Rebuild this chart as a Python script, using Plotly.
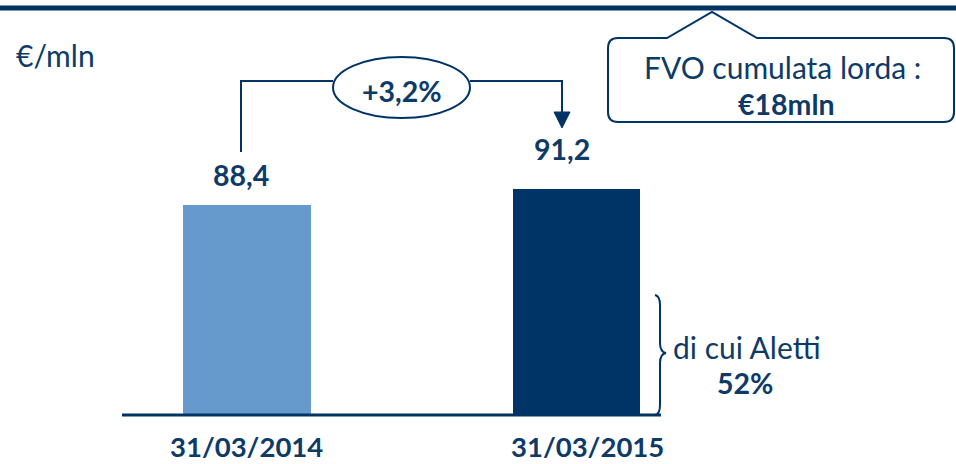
import plotly.graph_objects as go

# ---- data ----
categories = ["31/03/2014", "31/03/2015"]
values = [88.4, 91.2]
value_labels = ["88,4", "91,2"]
bar_colors = ["#6699CC", "#003366"]
growth_label = "+3,2%"
unit_label = "€/mln"
callout_line1 = "FVO cumulata lorda :"
callout_line2 = "€18mln"
brace_line1 = "di cui Aletti"
brace_line2 = "52%"

NAVY = "#003366"
TXT = "#0E3A68"
FONT = "Lato"
W, H = 956, 464
PLOT_BOTTOM = 415
BOLD = 28.5
REG = 30


def px(x):
    return x / W


def py(y):
    return (PLOT_BOTTOM - y) / PLOT_BOTTOM


fig = go.Figure()
fig.add_trace(go.Bar(
    x=categories, y=values, marker=dict(color=bar_colors, line=dict(width=0)),
    width=0.388, hoverinfo="skip", showlegend=False,
))

shapes = []
annotations = []

# top rule
shapes.append(dict(type="rect", xref="paper", yref="paper", x0=0, x1=1,
                   y0=py(10.5), y1=py(5.5), fillcolor=NAVY, line=dict(width=0), layer="above"))
# baseline
shapes.append(dict(type="line", xref="paper", yref="paper", x0=px(122), x1=px(661),
                   y0=py(415), y1=py(415), line=dict(color=NAVY, width=3)))

# callout box with pointer (rounded rect)
L, R, T, B, r = 608, 954, 38, 122, 10
path = (f"M {px(L + r)},{py(T)} L {px(667)},{py(T)} L {px(712)},{py(12)} L {px(757)},{py(T)} "
        f"L {px(R - r)},{py(T)} Q {px(R)},{py(T)} {px(R)},{py(T + r)} "
        f"L {px(R)},{py(B - r)} Q {px(R)},{py(B)} {px(R - r)},{py(B)} "
        f"L {px(L + r)},{py(B)} Q {px(L)},{py(B)} {px(L)},{py(B - r)} "
        f"L {px(L)},{py(T + r)} Q {px(L)},{py(T)} {px(L + r)},{py(T)} Z")
shapes.append(dict(type="path", xref="paper", yref="paper", path=path,
                   fillcolor="white", line=dict(color=NAVY, width=2)))

# connector
conn = (f"M {px(241)},{py(152)} L {px(241)},{py(81)} L {px(333)},{py(81)} "
        f"M {px(470)},{py(81)} L {px(562)},{py(81)} L {px(562)},{py(114)}")
shapes.append(dict(type="path", xref="paper", yref="paper", path=conn,
                   line=dict(color=NAVY, width=2)))
shapes.append(dict(type="path", xref="paper", yref="paper",
                   path=f"M {px(554)},{py(112)} L {px(570)},{py(112)} L {px(562)},{py(128)} Z",
                   fillcolor=NAVY, line=dict(color=NAVY, width=1)))
shapes.append(dict(type="circle", xref="paper", yref="paper", x0=px(333), x1=px(470),
                   y0=py(118), y1=py(57), fillcolor="white", line=dict(color=NAVY, width=2)))

# brace
brace = (f"M {px(655)},{py(295)} Q {px(660)},{py(296)} {px(660)},{py(305)} "
         f"L {px(660)},{py(343)} Q {px(660)},{py(352)} {px(666)},{py(353)} "
         f"Q {px(660)},{py(354)} {px(660)},{py(363)} L {px(660)},{py(405)} "
         f"Q {px(660)},{py(414)} {px(655)},{py(415)}")
shapes.append(dict(type="path", xref="paper", yref="paper", path=brace,
                   line=dict(color=NAVY, width=2)))

# value labels above bars (from data)
label_offsets = {categories[0]: (-6, 30), categories[1]: (-15, 40)}
for c, v, lab in zip(categories, values, value_labels):
    dx, dy = label_offsets[c]
    annotations.append(dict(x=c, y=v, xref="x", yref="y", text=f"<b>{lab}</b>",
                            showarrow=False, xanchor="center", yanchor="middle",
                            yshift=dy, xshift=dx,
                            font=dict(size=BOLD, color=TXT, family=FONT)))
# category labels
date_shift = {categories[0]: -1, categories[1]: 11}
for c in categories:
    annotations.append(dict(x=c, y=py(446), xref="x", yref="paper", text=f"<b>{c}</b>",
                            showarrow=False, xanchor="center", yanchor="middle",
                            xshift=date_shift[c],
                            font=dict(size=27.5, color=TXT, family=FONT)))


def note(x, y, text, size, xanchor="center"):
    return dict(x=px(x), y=py(y), xref="paper", yref="paper", text=text,
                showarrow=False, xanchor=xanchor, yanchor="middle",
                font=dict(size=size, color=TXT, family=FONT))


annotations += [
    note(402, 91, f"<b>{growth_label}</b>", BOLD),
    note(14, 55, unit_label, REG, "left"),
    note(782, 67, callout_line1, REG),
    note(786, 104, f"<b>{callout_line2}</b>", BOLD),
    note(671, 347, brace_line1, REG, "left"),
    note(745, 383, f"<b>{brace_line2}</b>", BOLD),
]

# axis scales: categories 0/1 centred at px 247 and 576.5
unit = 329.5
fig.update_layout(
    width=W, height=H, margin=dict(l=0, r=0, t=0, b=H - PLOT_BOTTOM),
    paper_bgcolor="white", plot_bgcolor="white",
    xaxis=dict(type="category", range=[-247 / unit, (W - 247) / unit],
               showticklabels=False, showgrid=False, zeroline=False, showline=False),
    yaxis=dict(range=[51.65, 51.65 + PLOT_BOTTOM / 5.714], showticklabels=False,
               showgrid=False, zeroline=False, showline=False),
    shapes=shapes, annotations=annotations, bargap=0,
)

fig.write_html("out.html", config={"displayModeBar": False},
               post_script="document.body.style.margin='0';")
